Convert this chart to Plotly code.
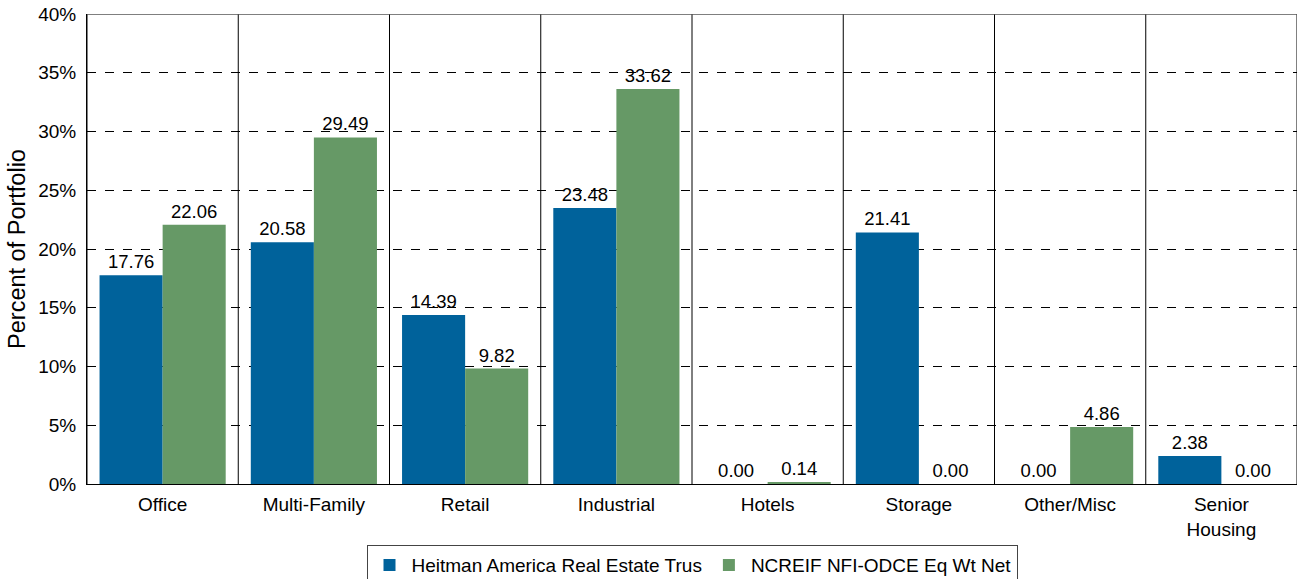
import plotly.graph_objects as go

categories = ["Office", "Multi-Family", "Retail", "Industrial", "Hotels", "Storage", "Other/Misc", "Senior<br>Housing"]
heitman = [17.76, 20.58, 14.39, 23.48, 0.00, 21.41, 0.00, 2.38]
ncreif = [22.06, 29.49, 9.82, 33.62, 0.14, 0.00, 4.86, 0.00]
series_names = ["Heitman America Real Estate Trus", "NCREIF NFI-ODCE Eq Wt Net"]
colors = ["#00629B", "#669966"]
y_ticks = [0, 5, 10, 15, 20, 25, 30, 35, 40]
y_ticktext = [f"{v}%" for v in y_ticks]

font_family = "Arial, Liberation Sans, sans-serif"

fig = go.Figure()
for name, vals, col in zip(series_names, [heitman, ncreif], colors):
    fig.add_trace(go.Bar(
        x=categories, y=vals, name=name, marker=dict(color=col, line=dict(width=0)),
        texttemplate="%{y:.2f}", textposition="outside", cliponaxis=False,
        textfont=dict(size=18.5, color="black", family=font_family),
    ))

shapes = []
for i in range(len(categories) + 1):
    shapes.append(dict(type="line", xref="x", yref="paper", x0=i - 0.5, x1=i - 0.5,
                       y0=0, y1=1, line=dict(color="black", width=1), layer="above"))
shapes.append(dict(type="line", xref="paper", yref="y", x0=0, x1=1, y0=40, y1=40,
                   line=dict(color="#555555", width=1.5), layer="above"))

fig.update_layout(
    width=1303, height=579,
    paper_bgcolor="white", plot_bgcolor="white",
    margin=dict(l=87, r=6, t=14, b=95, autoexpand=False),
    barmode="group", bargap=0.166, bargroupgap=0,
    font=dict(family=font_family, size=19, color="black"),
    shapes=shapes,
    showlegend=True,
    legend=dict(orientation="h", x=0.5, xanchor="center", y=-0.13, yanchor="top",
                bordercolor="#444444", borderwidth=1, font=dict(size=19),
                traceorder="normal", itemwidth=34),
    xaxis=dict(showgrid=False, showline=True, linecolor="black", linewidth=1,
               ticks="", tickfont=dict(size=19), automargin=False, ticklabelstandoff=3,
               range=[-0.5, len(categories) - 0.5]),
    yaxis=dict(range=[0, 40], tickvals=y_ticks, ticktext=y_ticktext, showgrid=True,
               gridcolor="black", griddash="dash", gridwidth=1,
               showline=True, linecolor="black", linewidth=1, zeroline=False,
               ticks="", automargin=False, ticklabelstandoff=6,
               ticklabeloverflow="allow",
               tickfont=dict(size=19),
               title=dict(text="Percent of Portfolio", font=dict(size=23.5), standoff=5)),
)

fig.write_html("out.html", config={"displayModeBar": False},
               post_script="document.body.style.margin='0';")
